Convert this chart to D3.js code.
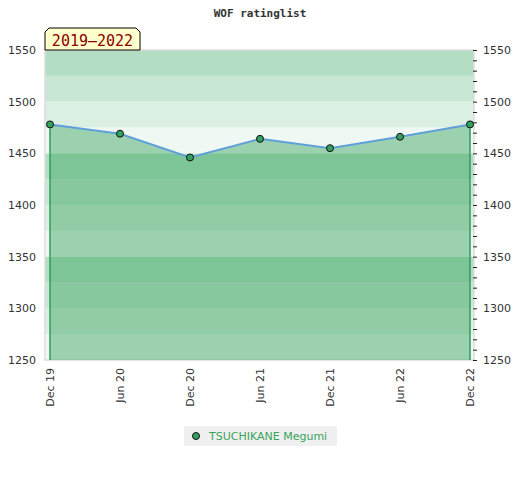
<!DOCTYPE html>
<html lang="en">
<head>
<meta charset="utf-8">
<script src="https://d3js.org/d3.v7.min.js"></script>
<style>
  body { margin: 0; background: #fff; }
  text { font-family: "DejaVu Sans", sans-serif; }
</style>
</head>
<body>
<div id="chart"></div>
<script>
// data
var months = ["Dec 19", "Jun 20", "Dec 20", "Jun 21", "Dec 21", "Jun 22", "Dec 22"];
var ratings = [1478, 1469, 1446, 1464, 1455, 1466, 1478];
var yTicks = [1250, 1300, 1350, 1400, 1450, 1500, 1550];
var playerName = "TSUCHIKANE Megumi";
var periodLabel = "2019\u20132022";
var chartTitle = "WOF ratinglist";

var width = 520, height = 480;
var plot = { left: 45, right: 474, top: 50, bottom: 360 };

var svg = d3.select("#chart").append("svg")
  .attr("width", width)
  .attr("height", height);

var y = d3.scaleLinear().domain([1250, 1550]).range([plot.bottom, plot.top]);
var x = d3.scalePoint().domain(months).range([50, 470]);

// background bands, 25 points each, getting darker every 100
var bandColors = ["#f0f8f3", "#dcefe3", "#c9e7d5", "#b3dec3"];
var bands = d3.range(1250, 1550, 25);
svg.append("g").selectAll("rect")
  .data(bands)
  .enter().append("rect")
  .attr("x", plot.left)
  .attr("width", plot.right - plot.left)
  .attr("y", function (d) { return y(d + 25); })
  .attr("height", function (d) { return y(d) - y(d + 25); })
  .attr("fill", function (d) { return bandColors[((d - 1250) / 25) % 4]; });

// plot border
svg.append("rect")
  .attr("x", plot.left).attr("y", plot.top)
  .attr("width", plot.right - plot.left)
  .attr("height", plot.bottom - plot.top)
  .attr("fill", "none")
  .attr("stroke", "#dddddd")
  .attr("stroke-width", 1.5);

var pts = months.map(function (m, i) { return { m: m, v: ratings[i] }; });
var first = pts[0], last = pts[pts.length - 1];

// area under the line
var area = d3.area()
  .x(function (d) { return x(d.m); })
  .y0(y(1250))
  .y1(function (d) { return y(d.v); });

svg.append("path")
  .datum(pts)
  .attr("d", area)
  .attr("fill", "#48aa6c")
  .attr("fill-opacity", 0.5);

// green edges of the area
svg.append("g").selectAll("line")
  .data([first, last])
  .enter().append("line")
  .attr("x1", function (d) { return x(d.m); })
  .attr("x2", function (d) { return x(d.m); })
  .attr("y1", function (d) { return y(d.v); })
  .attr("y2", y(1250))
  .attr("stroke", "#2e9e58")
  .attr("stroke-width", 1.5);

var line = d3.line()
  .x(function (d) { return x(d.m); })
  .y(function (d) { return y(d.v); });

svg.append("path")
  .datum(pts)
  .attr("d", line)
  .attr("fill", "none")
  .attr("stroke", "#5fa0da")
  .attr("stroke-width", 2);

svg.append("g").selectAll("circle")
  .data(pts)
  .enter().append("circle")
  .attr("cx", function (d) { return x(d.m); })
  .attr("cy", function (d) { return y(d.v); })
  .attr("r", 3.5)
  .attr("fill", "#33a060")
  .attr("stroke", "#111")
  .attr("stroke-width", 1);

// left axis: labels only
var leftAxis = svg.append("g")
  .attr("transform", "translate(" + (plot.left - 4) + ",0)")
  .call(d3.axisLeft(y).tickValues(yTicks).tickSize(0).tickPadding(5).tickFormat(d3.format("d")));
leftAxis.select(".domain").remove();
leftAxis.selectAll("text").attr("fill", "#333").style("font-size", "11px");

// right axis: minor ticks every 10, labels every 50
var rightAxis = svg.append("g")
  .attr("transform", "translate(" + (plot.right - 1) + ",0)")
  .call(d3.axisRight(y)
    .tickValues(d3.range(1250, 1551, 10))
    .tickSize(4)
    .tickPadding(6)
    .tickFormat(function (d) { return yTicks.indexOf(d) >= 0 ? d : ""; }));
rightAxis.select(".domain").remove();
rightAxis.selectAll("line").attr("stroke", "#222");
rightAxis.selectAll("text").attr("fill", "#333").style("font-size", "11px");

// x labels, rotated
svg.append("g").selectAll("text")
  .data(months)
  .enter().append("text")
  .attr("transform", function (d) { return "translate(" + x(d) + "," + (plot.bottom + 8) + ") rotate(-90)"; })
  .attr("text-anchor", "end")
  .attr("dy", "0.35em")
  .attr("fill", "#333")
  .style("font-size", "11px")
  .text(function (d) { return d; });

// title
svg.append("text")
  .attr("x", 260).attr("y", 17)
  .attr("text-anchor", "middle")
  .attr("fill", "#333")
  .style("font-family", "'DejaVu Sans Mono', monospace")
  .style("font-weight", "bold")
  .style("font-size", "11px")
  .text(chartTitle);

// period label box with chamfered top corners
var bx0 = 45, bx1 = 140, by0 = 28, by1 = 50, c = 4;
svg.append("path")
  .attr("d", "M" + bx0 + "," + by1 + "L" + bx0 + "," + (by0 + c) + "L" + (bx0 + c) + "," + by0 +
    "L" + (bx1 - c) + "," + by0 + "L" + bx1 + "," + (by0 + c) + "L" + bx1 + "," + by1 + "Z")
  .attr("fill", "#ffffcc")
  .attr("stroke", "#000")
  .attr("stroke-width", 1);
svg.append("text")
  .attr("x", (bx0 + bx1) / 2).attr("y", 46)
  .attr("text-anchor", "middle")
  .attr("fill", "#8b0000")
  .style("font-family", "'DejaVu Sans Mono', monospace")
  .style("font-size", "15px")
  .text(periodLabel);

// legend
var lg = svg.append("g");
lg.append("rect")
  .attr("x", 184).attr("y", 426)
  .attr("width", 153).attr("height", 20)
  .attr("fill", "#f0f0f0");
lg.append("circle")
  .attr("cx", 196).attr("cy", 436).attr("r", 3.5)
  .attr("fill", "#33a060").attr("stroke", "#111");
lg.append("text")
  .attr("x", 209).attr("y", 440)
  .attr("fill", "#3aa35b")
  .style("font-size", "11px")
  .text(playerName);
</script>
</body>
</html>
